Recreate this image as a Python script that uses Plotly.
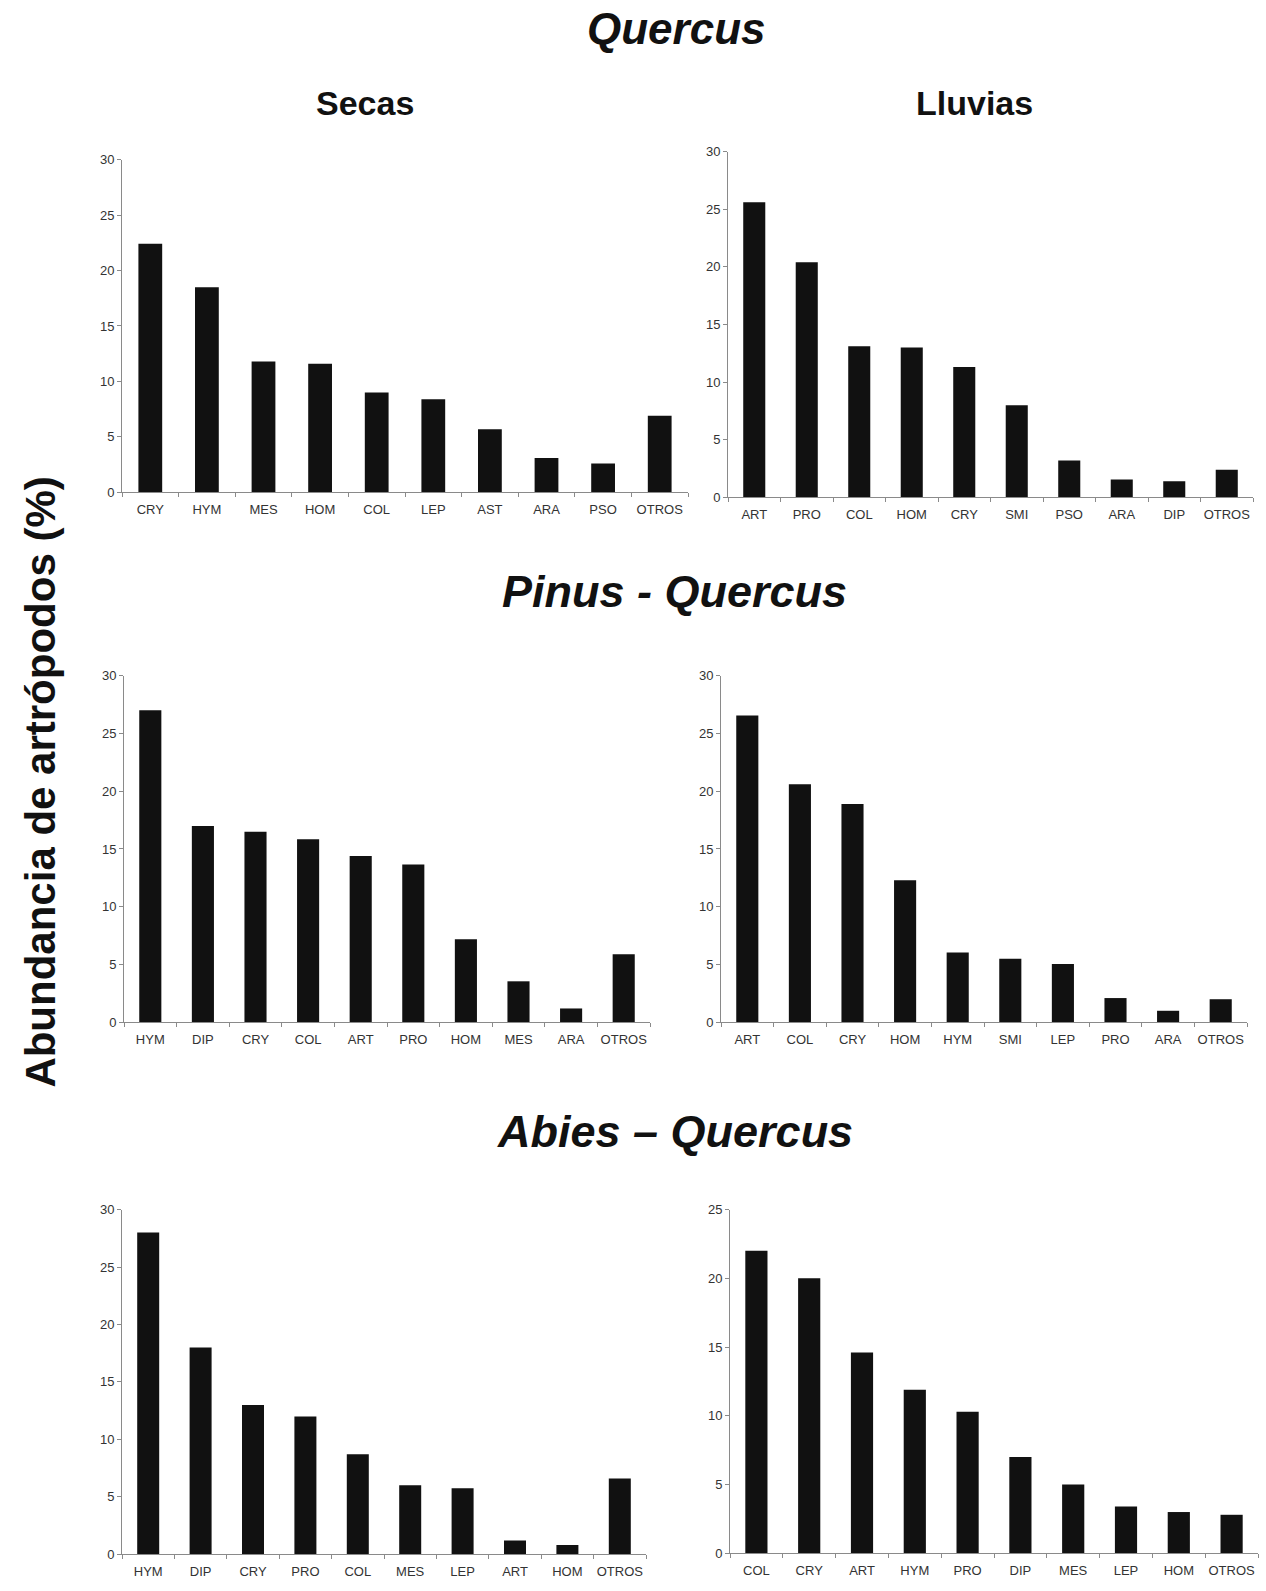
import plotly.graph_objects as go

W, H = 1266, 1591

# ---- data ----
q_secas_cat = ["CRY", "HYM", "MES", "HOM", "COL", "LEP", "AST", "ARA", "PSO", "OTROS"]
q_secas_val = [22.4, 18.5, 11.8, 11.6, 9.0, 8.4, 5.7, 3.1, 2.6, 6.9]

q_lluv_cat = ["ART", "PRO", "COL", "HOM", "CRY", "SMI", "PSO", "ARA", "DIP", "OTROS"]
q_lluv_val = [25.6, 20.4, 13.1, 13.0, 11.3, 8.0, 3.2, 1.55, 1.4, 2.4]

pq_secas_cat = ["HYM", "DIP", "CRY", "COL", "ART", "PRO", "HOM", "MES", "ARA", "OTROS"]
pq_secas_val = [27.0, 17.0, 16.5, 15.85, 14.4, 13.65, 7.2, 3.55, 1.2, 5.9]

pq_lluv_cat = ["ART", "COL", "CRY", "HOM", "HYM", "SMI", "LEP", "PRO", "ARA", "OTROS"]
pq_lluv_val = [26.55, 20.6, 18.9, 12.3, 6.05, 5.5, 5.05, 2.1, 1.0, 2.0]

aq_secas_cat = ["HYM", "DIP", "CRY", "PRO", "COL", "MES", "LEP", "ART", "HOM", "OTROS"]
aq_secas_val = [28.0, 18.0, 13.0, 12.0, 8.7, 6.0, 5.75, 1.2, 0.8, 6.6]

aq_lluv_cat = ["COL", "CRY", "ART", "HYM", "PRO", "DIP", "MES", "LEP", "HOM", "OTROS"]
aq_lluv_val = [22.0, 20.0, 14.6, 11.9, 10.3, 7.0, 5.0, 3.4, 3.0, 2.8]

y_max = [30, 30, 30, 30, 30, 25]

panels = [
    (q_secas_cat, q_secas_val, (122, 688), (154, 490)),
    (q_lluv_cat, q_lluv_val, (728, 1253), (146, 495)),
    (pq_secas_cat, pq_secas_val, (124, 650), (675, 1025)),
    (pq_lluv_cat, pq_lluv_val, (721, 1247), (675, 1025)),
    (aq_secas_cat, aq_secas_val, (122, 646), (1214, 1562)),
    (aq_lluv_cat, aq_lluv_val, (730, 1258), (1214, 1561)),
]

FONT = "Arial, 'Liberation Sans', Helvetica, sans-serif"
fig = go.Figure()
layout = dict(
    width=W, height=H, autosize=False,
    margin=dict(l=0, r=0, t=0, b=0),
    paper_bgcolor="white", plot_bgcolor="white",
    showlegend=False, bargap=0.58,
    font=dict(family=FONT, color="#333"),
)

for i, (cats, vals, (x0, x1), (ytop, ybot)) in enumerate(panels):
    n = "" if i == 0 else str(i + 1)
    fig.add_trace(go.Bar(
        x=cats, y=vals, xaxis="x" + n, yaxis="y" + n,
        marker=dict(color="#111111", line=dict(width=0)),
        width=0.42,
    ))
    layout["xaxis" + n] = dict(
        domain=[x0 / W, x1 / W], anchor="y" + n,
        type="category", showline=True, linecolor="#8a8a8a", linewidth=1,
        ticks="outside", tickson="boundaries", ticklen=4, tickcolor="#8a8a8a",
        tickangle=0, ticklabelstandoff=5,
        tickfont=dict(size=13, color="#333", family=FONT),
        showgrid=False, zeroline=False, fixedrange=True,
    )
    layout["yaxis" + n] = dict(
        domain=[1 - ybot / H, 1 - ytop / H], anchor="x" + n,
        range=[0, y_max[i]], dtick=5, showline=True, linecolor="#8a8a8a",
        linewidth=1, ticks="outside", ticklen=4, tickcolor="#8a8a8a",
        tickfont=dict(size=13, color="#333", family=FONT),
        showgrid=False, zeroline=False, fixedrange=True,
    )

annotations = [
    dict(text="<b><i>Quercus</i></b>", x=677, y=22, size=44),
    dict(text="<b>Secas</b>", x=365, y=97, size=34),
    dict(text="<b>Lluvias</b>", x=974, y=97, size=34),
    dict(text="<b><i>Pinus - Quercus</i></b>", x=674, y=590, size=45),
    dict(text="<b><i>Abies – Quercus</i></b>", x=675, y=1135, size=45),
]
ann = []
for a in annotations:
    ann.append(dict(text=a["text"], x=a["x"] / W, y=1 - a["y"] / H, xref="paper", yref="paper",
                    xanchor="center", yanchor="middle", showarrow=False,
                    font=dict(size=a["size"], color="#111", family=FONT)))
ann.append(dict(text="<b>Abundancia de artrópodos (%)</b>", x=41 / W, y=1 - 783 / H,
                xref="paper", yref="paper", xanchor="center", yanchor="middle",
                showarrow=False, textangle=-90,
                font=dict(size=42, color="#111", family=FONT)))
layout["annotations"] = ann

fig.update_layout(**layout)
fig.write_html("out.html", config={"displayModeBar": False})
